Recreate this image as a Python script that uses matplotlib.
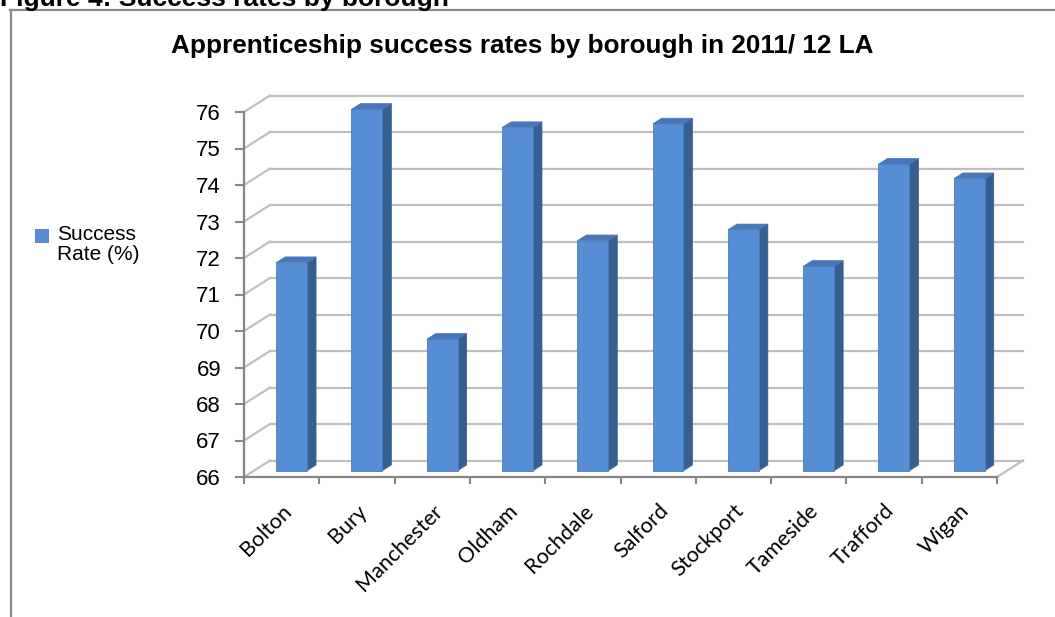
import matplotlib
matplotlib.use('Agg')
import matplotlib.pyplot as plt
from matplotlib.transforms import ScaledTranslation, IdentityTransform
from matplotlib.patches import Polygon, Rectangle
from matplotlib.lines import Line2D

# data
boroughs = ['Bolton', 'Bury', 'Manchester', 'Oldham', 'Rochdale',
            'Salford', 'Stockport', 'Tameside', 'Trafford', 'Wigan']
success_rate = [71.7, 75.9, 69.6, 75.4, 72.3, 75.5, 72.6, 71.6, 74.4, 74.0]
y_ticks = list(range(66, 77))
series_name = 'Success\nRate (%)'

W, H = 1055, 617
front_col = '#558ed5'
side_col = '#365f91'
top_col = '#4876b9'
grid_col = '#bfbfbf'
axis_col = '#868686'

fig = plt.figure(figsize=(W / 100, H / 100), dpi=100)
ax = fig.add_axes([244 / W, (H - 477) / H, (997 - 244) / W, (477 - 112) / H])
ax.set_xlim(0, len(boroughs))
ax.set_ylim(y_ticks[0], y_ticks[-1])
ax.patch.set_alpha(0)

# fake 3D depth of the chart floor, in pixels (x right, y up)
depth = (26, 16.5)
bar_front, bar_back = 0.38, 0.73
bar_w = 0.41


def shifted(frac):
    return ax.transData + ScaledTranslation(depth[0] * frac / 100, depth[1] * frac / 100,
                                            fig.dpi_scale_trans)


def px(x, y, frac):
    X, Y = ax.transData.transform((x, y))
    return X + depth[0] * frac, Y + depth[1] * frac


ident = IdentityTransform()
n = len(boroughs)

# back wall gridlines + side wall diagonals
for v in y_ticks:
    ax.plot([0, n], [v, v], transform=shifted(1), color=grid_col, lw=1.6,
            clip_on=False, zorder=0)
    p0, p1 = px(0, v, 0), px(0, v, 1)
    ax.add_line(Line2D([p0[0], p1[0]], [p0[1], p1[1]], transform=ident,
                       color=grid_col, lw=1.6, clip_on=False, zorder=0))
# right edge of the floor
p0, p1 = px(n, y_ticks[0], 0), px(n, y_ticks[0], 1)
ax.add_line(Line2D([p0[0], p1[0]], [p0[1], p1[1]], transform=ident,
                   color=grid_col, lw=1.6, clip_on=False, zorder=0))

# bars: front faces
centers = [i + 0.5 for i in range(n)]
heights = [v - y_ticks[0] for v in success_rate]
ax.bar(centers, heights, bottom=y_ticks[0], width=bar_w, color=front_col,
       edgecolor='#4a7ebb', linewidth=0.6, transform=shifted(bar_front),
       clip_on=False, zorder=3)

# bars: side and top faces
for c, v in zip(centers, success_rate):
    xl, xr = c - bar_w / 2, c + bar_w / 2
    side = [px(xr, y_ticks[0], bar_front), px(xr, v, bar_front),
            px(xr, v, bar_back), px(xr, y_ticks[0], bar_back)]
    top = [px(xl, v, bar_front), px(xr, v, bar_front),
           px(xr, v, bar_back), px(xl, v, bar_back)]
    ax.add_patch(Polygon(side, closed=True, transform=ident, fc=side_col,
                         ec=side_col, lw=0.5, clip_on=False, zorder=2))
    ax.add_patch(Polygon(top, closed=True, transform=ident, fc=top_col,
                         ec=top_col, lw=0.5, clip_on=False, zorder=2))

# axes
for s in ['top', 'right']:
    ax.spines[s].set_visible(False)
for s in ['left', 'bottom']:
    ax.spines[s].set_color(axis_col)
    ax.spines[s].set_linewidth(1.6)
    ax.spines[s].set_zorder(5)

ax.set_yticks(y_ticks)
ax.set_yticklabels([str(t) for t in y_ticks], fontsize=16, family='Liberation Sans')
ax.tick_params(axis='y', direction='out', length=6.5, width=1.5, color=axis_col, pad=10)

ax.set_xticks(range(n + 1))
ax.set_xticklabels([''] * (n + 1))
ax.tick_params(axis='x', which='major', direction='out', length=5, width=1.5, color=axis_col)
ax.set_xticks(centers, minor=True)
ax.set_xticklabels(boroughs, minor=True, rotation=45, ha='right',
                   rotation_mode='anchor', fontsize=15.5, family='Lato')
ax.tick_params(axis='x', which='minor', length=0, pad=17)

# titles
fig.text(522 / W, 1 - 53 / H, 'Apprenticeship success rates by borough in 2011/ 12 LA',
         ha='center', va='baseline', fontsize=18.8, weight='bold', family='Liberation Sans')
fig.text(0, 1 - 6 / H, 'Figure 4: Success rates by borough', ha='left', va='baseline',
         fontsize=19, weight='bold', family='Liberation Sans')

# legend
fig.add_artist(Rectangle((35 / W, 1 - 242 / H), 13 / W, 13 / H, transform=fig.transFigure,
                         fc=front_col, ec='#4a7ebb', lw=0.6))
fig.text(57 / W, 1 - 225 / H, series_name, ha='left', va='top', fontsize=15,
         family='Liberation Sans', linespacing=1.05)

# chart border
fig.add_artist(Line2D([10 / W, 1], [1 - 10 / H, 1 - 10 / H], transform=fig.transFigure,
                      color='#8c8c8c', lw=1.6))
fig.add_artist(Line2D([11 / W, 11 / W], [0, 1 - 10 / H], transform=fig.transFigure,
                      color='#8c8c8c', lw=1.6))

fig.savefig('out.png', dpi=100)
